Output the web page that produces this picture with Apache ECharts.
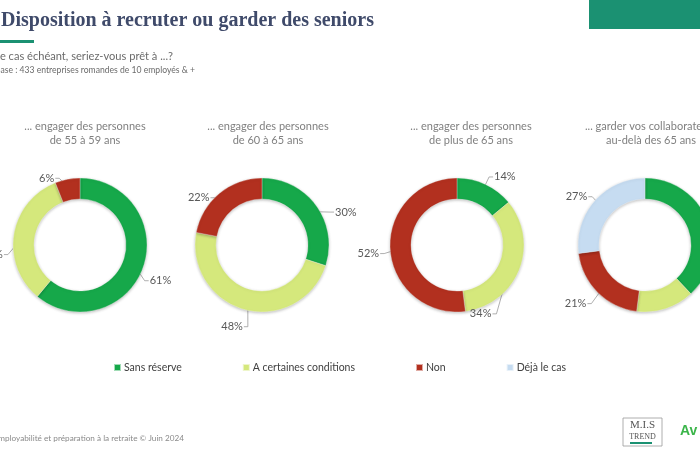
<!DOCTYPE html>
<html>
<head>
<meta charset="utf-8">
<script src="https://cdn.jsdelivr.net/npm/echarts@6/dist/echarts.min.js"></script>
<style>html,body{margin:0;padding:0;background:#fff;}#c{width:700px;height:450px;}</style>
</head>
<body>
<div id="c"></div>
<script>
const categories = ['Sans réserve', 'A certaines conditions', 'Non', 'Déjà le cas'];
const chartTitles = [
  '... engager des personnes\nde 55 à 59 ans',
  '... engager des personnes\nde 60 à 65 ans',
  '... engager des personnes\nde plus de 65 ans',
  '... garder vos collaborateurs\nau-delà des 65 ans'
];
const sansReserve = [61, 30, 14, 38];
const aCertainesConditions = [33, 48, 34, 14];
const non = [6, 22, 52, 21];
const dejaLeCas = [null, null, null, 27];

const colors = {'Sans réserve': '#16a84a', 'A certaines conditions': '#d5e87c', 'Non': '#b2301f', 'Déjà le cas': '#c6dcf1'};
const centersX = [80, 262, 457, 645];
const centerY = 245;
const titleX = [80, 263, 466, 646];
const FONT = 'Lato';
// label nudges [series][category] (dx, dy, hideLine) to mimic the original placement
const labelNudge = [
  [[-10, 11], [6, 21], [-1, 5], null],
  [[3, 10], [10, 11], [5, 9], null],
  [[-5, -2], [-66, 42], [6, 4], null],
  [null, [40, 0, true], [4, 7], [8, 0]]
];

function makeLayout(i, data) {
  return function (p) {
    const item = data[p.dataIndex];
    const n = labelNudge[i][item.catIndex];
    if (!n) return {};
    const r = p.labelRect;
    const nx = r.x + n[0], ny = r.y + n[1], w = r.width, h = r.height;
    const pts = p.labelLinePoints;
    if (!pts || n[2]) return {dx: n[0], dy: n[1]};
    const cx = centersX[i];
    const k = 57 / 67;
    const sx = cx + (pts[0][0] - cx) * k, sy = centerY + (pts[0][1] - centerY) * k;
    let ex, ey, mx, my;
    if (sx >= nx - 4 && sx <= nx + w + 4) {
      ex = nx + w / 2; ey = sy < ny ? ny : ny + h;
      mx = ex; my = ey + (sy < ny ? -3 : 3);
    } else if (sx < nx) {
      ex = nx - 1; ey = ny + h / 2; mx = ex - 4; my = ey;
    } else {
      ex = nx + w + 1; ey = ny + h / 2; mx = ex + 4; my = ey;
    }
    return {dx: n[0], dy: n[1], labelLinePoints: [[sx, sy], [mx, my], [ex, ey]]};
  };
}

const series = chartTitles.map((t, i) => {
  const vals = [sansReserve[i], aCertainesConditions[i], non[i], dejaLeCas[i]];
  const data = [];
  vals.forEach((v, k) => {
    if (v === null) return;
    const n = labelNudge[i][k];
    const d = {name: categories[k], value: v, catIndex: k, itemStyle: {color: colors[categories[k]]}};
    if (n && n[2]) d.labelLine = {show: false};
    data.push(d);
  });
  return {
    type: 'pie',
    center: [centersX[i], centerY],
    radius: [46, 67],
    startAngle: 90,
    clockwise: true,
    silent: true,
    data: data,
    itemStyle: {borderColor: 'rgba(255,255,255,0.6)', borderWidth: 0.5, shadowBlur: 3, shadowColor: 'rgba(0,0,0,0.25)', shadowOffsetY: 1},
    label: {show: true, position: 'outside', formatter: '{c}%', fontFamily: FONT, fontSize: 11, color: '#595959', overflow: 'none'},
    labelLine: {show: true, length: 6, length2: 6, lineStyle: {color: '#9a9a9a', width: 0.8}},
    labelLayout: makeLayout(i, data)
  };
});

const titles = chartTitles.map((t, i) => ({
  text: t, left: titleX[i], top: 114, textAlign: 'center',
  textStyle: {fontFamily: FONT, fontSize: 11, fontWeight: 'normal', color: '#808080', lineHeight: 14}
}));

const chart = echarts.init(document.getElementById('c'), null, {renderer: 'canvas'});
chart.setOption({
  animation: false,
  backgroundColor: '#ffffff',
  title: titles,
  legend: {
    data: categories, left: 113, top: 362, padding: 0, icon: 'rect', itemWidth: 7, itemHeight: 7, itemGap: 60,
    selectedMode: false,
    textStyle: {fontFamily: FONT, fontSize: 10.5, color: '#404040', padding: [0, 0, 0, -2]}
  },
  graphic: [
    {type: 'rect', shape: {x: 589, y: 0, width: 111, height: 29}, style: {fill: '#1b9172'}},
    {type: 'text', x: 1, y: 31, style: {text: 'Disposition à recruter ou garder des seniors', font: 'bold 20px "Liberation Serif"', fill: '#3f4a6a', textVerticalAlign: 'bottom'}},
    {type: 'rect', shape: {x: 0, y: 40, width: 34, height: 3}, style: {fill: '#1b9172'}},
    {type: 'text', x: 173, y: 56, style: {text: 'Le cas échéant, seriez-vous prêt à ...?', font: '11.1px Lato', fill: '#6b6b6b', textAlign: 'right', textVerticalAlign: 'middle'}},
    {type: 'text', x: 195, y: 70, style: {text: 'Base : 433 entreprises romandes de 10 employés & +', font: '8.6px Lato', fill: '#6b6b6b', textAlign: 'right', textVerticalAlign: 'middle'}},
    {type: 'text', x: 184, y: 438, style: {text: 'Employabilité et préparation à la retraite © Juin 2024', font: '8.2px Lato', fill: '#8a8a8a', textAlign: 'right', textVerticalAlign: 'middle'}},
    {type: 'rect', shape: {x: 623, y: 418, width: 39, height: 28}, style: {fill: 'none', stroke: '#9a9a9a', lineWidth: 0.8}},
    {type: 'text', x: 642.5, y: 425, style: {text: 'M.I.S', font: '11px "Liberation Serif"', fill: '#555', textAlign: 'center', textVerticalAlign: 'middle'}},
    {type: 'text', x: 642.5, y: 437, style: {text: 'TREND', font: '8px "Liberation Serif"', fill: '#555', textAlign: 'center', textVerticalAlign: 'middle'}},
    {type: 'rect', shape: {x: 630, y: 442, width: 22, height: 2}, style: {fill: '#1b9172'}},
    {type: 'text', x: 680, y: 431, style: {text: 'Av', font: 'bold 14px "Liberation Sans"', fill: '#3bb54a', textVerticalAlign: 'middle'}}
  ],
  series: series
});
</script>
</body>
</html>
